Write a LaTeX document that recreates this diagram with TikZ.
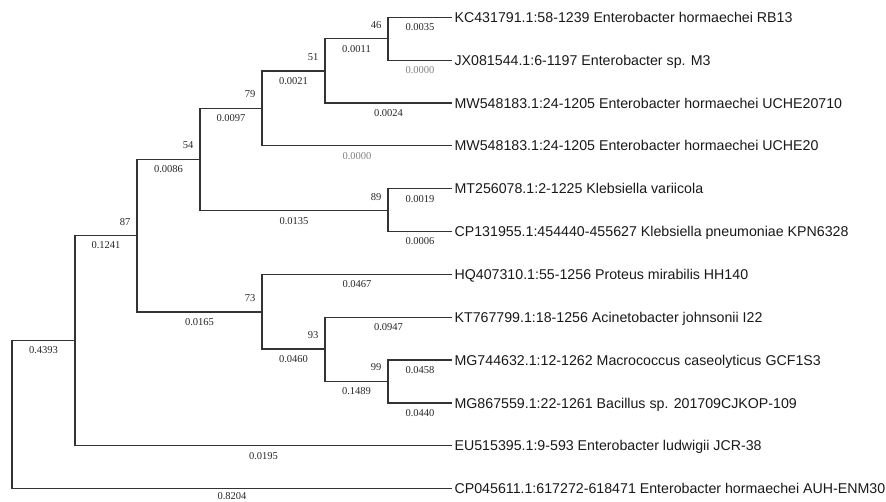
\documentclass[tikz,border=0pt]{standalone}
\usepackage{fontspec}
\setmainfont{Liberation Serif}
\newfontfamily\leaffont{Liberation Sans}
\begin{document}
\begin{tikzpicture}[x=0.75pt,y=-0.75pt,line width=0.9pt,draw=black!80,
  blen/.style={below=4.3pt,inner sep=0pt,text=black!85,font=\fontsize{7.9}{9}\selectfont},
  zero/.style={blen,text=black!50},
  boot/.style={anchor=south east,inner sep=0pt,xshift=-4.5pt,yshift=7.3pt,text=black!85,font=\fontsize{7.9}{9}\selectfont},
  leaf/.style={anchor=base west,inner sep=0pt,xshift=1.5pt,yshift=-3.8pt,text=black!90,font=\leaffont\fontsize{10.65}{12}\selectfont}]
\useasboundingbox (0,0) rectangle (886,502);
\foreach \i/\txt in {1/KC431791.1:58-1239 Enterobacter hormaechei RB13,
  2/JX081544.1:6-1197 Enterobacter sp. M3,
  3/MW548183.1:24-1205 Enterobacter hormaechei UCHE20710,
  4/MW548183.1:24-1205 Enterobacter hormaechei UCHE20,
  5/MT256078.1:2-1225 Klebsiella variicola,
  6/CP131955.1:454440-455627 Klebsiella pneumoniae KPN6328,
  7/HQ407310.1:55-1256 Proteus mirabilis HH140,
  8/KT767799.1:18-1256 Acinetobacter johnsonii I22,
  9/MG744632.1:12-1262 Macrococcus caseolyticus GCF1S3,
  10/MG867559.1:22-1261 Bacillus sp. 201709CJKOP-109,
  11/EU515395.1:9-593 Enterobacter ludwigii JCR-38,
  12/CP045611.1:617272-618471 Enterobacter hormaechei AUH-ENM30} {
  \coordinate (t\i) at (452,{17.3+42.85*(\i-1)});
  \node[leaf] (l\i) at (t\i) {\txt};
}
\coordinate (root) at (12,414.3);
\coordinate (nA) at (75,340.3);
\coordinate (nB) at (137,235.5);
\coordinate (nC) at (200,159.3);
\coordinate (nE) at (262,108.2);
\coordinate (nG) at (325,71);
\coordinate (nH) at (388,38.8);
\coordinate (nF) at (388,210.8);
\coordinate (nD) at (262,312);
\coordinate (nI) at (325,349);
\coordinate (nJ) at (388,381.3);
\draw (root) |- (nA) node[blen,pos=0.75] (w1) {0.4393};
\draw (root) |- (t12) node[blen,pos=0.75,yshift=1.8pt] (w2) {0.8204};
\draw (nA) |- (nB) node[blen,pos=0.75] (w3) {0.1241};
\draw (nA) |- (t11) node[blen,pos=0.75] (w4) {0.0195};
\draw (nB) |- (nC) node[blen,pos=0.75] (w5) {0.0086};
\draw (nB) |- (nD) node[blen,pos=0.75] (w6) {0.0165};
\draw (nC) |- (nE) node[blen,pos=0.75] (w7) {0.0097};
\draw (nC) |- (nF) node[blen,pos=0.75] (w8) {0.0135};
\draw (nE) |- (nG) node[blen,pos=0.75] (w9) {0.0021};
\draw (nE) |- (t4) node[zero,pos=0.75] (w10) {0.0000};
\draw (nG) |- (nH) node[blen,pos=0.75] (w11) {0.0011};
\draw (nG) |- (t3) node[blen,pos=0.75] (w12) {0.0024};
\draw (nH) |- (t1) node[blen,pos=0.75] (w13) {0.0035};
\draw (nH) |- (t2) node[zero,pos=0.75] (w14) {0.0000};
\draw (nF) |- (t5) node[blen,pos=0.75] (w15) {0.0019};
\draw (nF) |- (t6) node[blen,pos=0.75] (w16) {0.0006};
\draw (nD) |- (t7) node[blen,pos=0.75] (w17) {0.0467};
\draw (nD) |- (nI) node[blen,pos=0.75] (w18) {0.0460};
\draw (nI) |- (t8) node[blen,pos=0.75] (w19) {0.0947};
\draw (nI) |- (nJ) node[blen,pos=0.75] (w20) {0.1489};
\draw (nJ) |- (t9) node[blen,pos=0.75] (w21) {0.0458};
\draw (nJ) |- (t10) node[blen,pos=0.75] (w22) {0.0440};
\node[boot] (b87) at (nB) {87};
\node[boot] (b54) at (nC) {54};
\node[boot] (b79) at (nE) {79};
\node[boot] (b51) at (nG) {51};
\node[boot] (b46) at (nH) {46};
\node[boot] (b89) at (nF) {89};
\node[boot] (b73) at (nD) {73};
\node[boot] (b93) at (nI) {93};
\node[boot] (b99) at (nJ) {99};
\end{tikzpicture}
\end{document}
